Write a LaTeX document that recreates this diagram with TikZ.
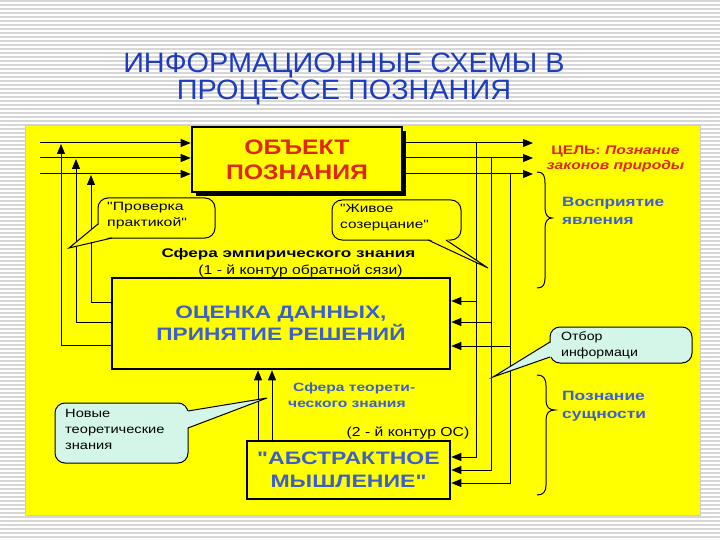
\documentclass[tikz,border=0pt]{standalone}
\usepackage{fontspec}
\setmainfont{Liberation Sans}[Ligatures=TeXOff]
\usetikzlibrary{arrows.meta}
\newcommand\hsc[2]{\scalebox{#1}[1]{#2}}
\definecolor{bgyellow}{RGB}{255,255,0}
\definecolor{objred}{RGB}{222,40,20}
\definecolor{boxblue}{RGB}{60,95,205}
\definecolor{titleblue}{RGB}{30,60,190}
\definecolor{mint}{RGB}{212,246,232}
\definecolor{stripegray}{RGB}{215,215,215}
\tikzset{
  stripe/.style={stripegray, line width=1.3pt},
  mainbox/.style={draw, line width=2.6pt, fill=bgyellow, inner sep=0pt, align=center},
  arr/.style={-{Triangle[length=10pt,width=8pt]}, line width=1pt},
  ln/.style={line width=1pt},
  callbox/.style={draw, line width=1pt, rounded corners=10pt, inner sep=0pt},
  calltxt/.style={font=\fontsize{12}{16}\selectfont, align=left, anchor=north west, inner sep=0pt},
  bluelbl/.style={text=boxblue, font=\fontsize{13.5}{18}\selectfont\bfseries, align=left, anchor=west, inner sep=0pt},
}
\begin{document}
\begin{tikzpicture}[x=1pt,y=-1pt]
\useasboundingbox (0,0) rectangle (720,540);
\fill[white] (0,0) rectangle (720,540);
\foreach \i in {1,5,...,540} \draw[stripe] (0,\i) -- (720,\i);
% title
\node[text=titleblue, font=\fontsize{28}{24}\selectfont, align=center, inner sep=0pt] (title) at (344,79)
  {\hsc{1.03}{ИНФОРМАЦИОННЫЕ СХЕМЫ В}\\\hsc{1.03}{ПРОЦЕССЕ ПОЗНАНИЯ}};
% yellow panel
\fill[bgyellow] (25,125) rectangle (700,515);
\draw[gray!40, line width=0.6pt] (25,125) rectangle (700,515);

% boxes
\fill[black] (196,131) rectangle (406,196);
\node[mainbox, minimum width=210pt, minimum height=65pt, text=objred,
      font=\fontsize{21}{25}\selectfont\bfseries] (obj) at (297,159.5) {\hsc{1.18}{ОБЪЕКТ}\\\hsc{1.18}{ПОЗНАНИЯ}};
\node[mainbox, minimum width=338pt, minimum height=91pt, text=boxblue,
      font=\fontsize{18}{22}\selectfont\bfseries] (mid) at (281,323.5) {\hsc{1.26}{ОЦЕНКА ДАННЫХ,}\\\hsc{1.26}{ПРИНЯТИЕ РЕШЕНИЙ}};
\node[mainbox, minimum width=203pt, minimum height=58pt, text=boxblue,
      font=\fontsize{18}{22.5}\selectfont\bfseries] (ab) at (348.5,470) {\hsc{1.28}{"АБСТРАКТНОЕ}\\\hsc{1.28}{МЫШЛЕНИЕ"}};

% left inputs to object
\coordinate (L1) at (40,143);
\coordinate (L2) at (40,158);
\coordinate (L3) at (40,174);
\draw[arr] (L1) -- (L1 -| obj.west);
\draw[arr] (L2) -- (L2 -| obj.west);
\draw[arr] (L3) -- (L3 -| obj.west);
% feedback from mid to left lines
\draw[arr] (mid.west |- 0,345) -| (61,144);
\draw[arr] (mid.west |- 0,322) -| (76,159);
\draw[arr] (mid.west |- 0,302) -| (91,175);

% right outputs from object
\coordinate (R1) at (533,143);
\coordinate (R2) at (533,158);
\coordinate (R3) at (533,174);
\draw[arr] (obj.east |- R1) -- (R1);
\draw[arr] (obj.east |- R2) -- (R2);
\draw[arr] (obj.east |- R3) -- (R3);
% verticals down the right
\coordinate (V1) at (476,143);
\coordinate (V2) at (491,158);
\coordinate (V3) at (510,174);
\draw[arr] (V1) |- (ab.east |- 0,457);
\draw[arr] (V2) |- (ab.east |- 0,470);
\draw[arr] (V3) |- (ab.east |- 0,483);
\draw[arr] (476,301) -- (mid.east |- 0,301);
\draw[arr] (491,322) -- (mid.east |- 0,322);
\draw[arr] (510,346) -- (mid.east |- 0,346);
% abstract -> mid
\draw[arr] (ab.north -| 258,0) -- (mid.south -| 258,0);
\draw[arr] (ab.north -| 272,0) -- (mid.south -| 272,0);

% labels
\node[font=\fontsize{12.5}{16}\selectfont\bfseries, inner sep=0pt] (emp) at (288.5,254) {\hsc{1.37}{Сфера эмпирического знания}};
\node[font=\fontsize{13}{16}\selectfont, inner sep=0pt] (k1) at (300.5,271) {\hsc{1.21}{(1 - й контур обратной сязи)}};
\node[text=boxblue, font=\fontsize{12}{16}\selectfont\bfseries, align=left, inner sep=0pt, anchor=north west] (teor) at (288,383)
  {\hspace*{5pt}\hsc{1.3}{Сфера теорети-}\\\hsc{1.3}{ческого знания}};
\node[font=\fontsize{13}{16}\selectfont, inner sep=0pt] (k2) at (408,433.5) {\hsc{1.21}{(2 - й контур ОС)}};
\node[text=objred, font=\fontsize{12.5}{15}\selectfont\bfseries, align=center, inner sep=0pt] (goal) at (615.5,158.5)
  {\hsc{1.25}{ЦЕЛЬ: \textit{Познание}}\\\hsc{1.25}{\textit{законов природы}}};
\node[bluelbl] (vos) at (562,211) {\hsc{1.27}{Восприятие}\\\hsc{1.27}{явления}};
\node[bluelbl] (poz) at (562,406) {\hsc{1.29}{Познание}\\\hsc{1.29}{сущности}};

% braces
\draw[ln] (537,172) .. controls (543,172) and (545,175) .. (545,183) -- (545,208)
  .. controls (545,215) and (548,218) .. (552,218)
  .. controls (548,218) and (545,221) .. (545,228) -- (545,278)
  .. controls (545,285) and (543,288) .. (537,288);
\draw[ln] (537,375) .. controls (543,375) and (546,378) .. (546,386) -- (546,400)
  .. controls (546,407) and (549,410) .. (555,410)
  .. controls (549,410) and (546,413) .. (546,420) -- (546,485)
  .. controls (546,492) and (543,495) .. (537,495);

% callouts
\node[callbox, fill=bgyellow, minimum width=117pt, minimum height=40pt] (cA) at (156.5,218) {};
\fill[bgyellow] (99.5,224) -- (69,248) -- (112,236.5) -- cycle;
\draw[ln] (98,224) -- (69,248) -- (112,238);
\node[calltxt] at (107,202.5) {\hsc{1.32}{"Проверка}\\\hsc{1.32}{практикой"}};

\node[callbox, fill=bgyellow, minimum width=129pt, minimum height=40pt] (cB) at (396.5,220) {};
\fill[bgyellow] (428,238.5) -- (488,268) -- (446,238.5) -- cycle;
\draw[ln] (428,240) -- (488,268) -- (446,240);
\node[calltxt] at (340,204.5) {\hsc{1.28}{"Живое}\\\hsc{1.28}{созерцание"}};

\node[callbox, fill=mint, minimum width=142pt, minimum height=36pt] (cC) at (621,345) {};
\fill[mint] (551.5,342) -- (493,377) -- (551.5,357) -- cycle;
\draw[ln] (550,342) -- (493,377) -- (550,357);
\node[calltxt] at (561,331.5) {\hsc{1.18}{Отбор}\\\hsc{1.18}{информаци}};

\node[callbox, fill=mint, minimum width=133pt, minimum height=60pt] (cD) at (121.5,433) {};
\fill[mint] (186.5,411) -- (267,398) -- (186.5,428) -- cycle;
\draw[ln] (188,411) -- (267,398) -- (188,428);
\node[calltxt] at (65,409) {\hsc{1.22}{Новые}\\\hsc{1.22}{теоретические}\\\hsc{1.22}{знания}};
\end{tikzpicture}
\end{document}
